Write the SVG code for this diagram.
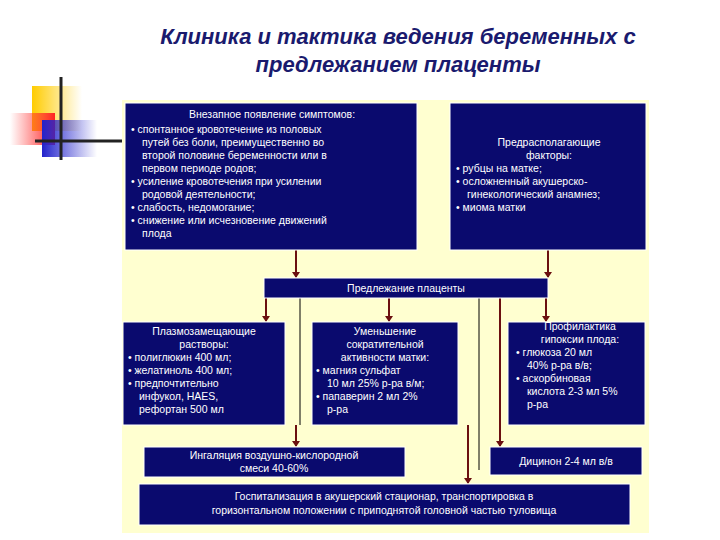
<svg xmlns="http://www.w3.org/2000/svg" width="720" height="540" viewBox="0 0 720 540">
<defs>
<style>
.box{fill:#0a0a6e;stroke:#ffffff;stroke-width:1}
.t{font-family:"Liberation Sans",Arial,sans-serif;font-size:10.5px;fill:#ffffff}
.c{text-anchor:middle}
.ar{stroke:#6b1010;stroke-width:2;fill:none;marker-end:url(#ah)}
.ln{stroke:#000000;stroke-width:1}
</style>
<marker id="ah" markerWidth="6" markerHeight="8" refX="5" refY="4" orient="auto" markerUnits="userSpaceOnUse"><path d="M0,0 L6,4 L0,8 z" fill="#6b1010"/></marker>
<linearGradient id="gy" x1="0" x2="1"><stop offset="0" stop-color="#ffcc00"/><stop offset="1" stop-color="#ffcc00" stop-opacity="0"/></linearGradient>
<linearGradient id="gr" x1="0" x2="1"><stop offset="0" stop-color="#ff3333" stop-opacity="0"/><stop offset="1" stop-color="#ff2222"/></linearGradient>
<linearGradient id="gb" x1="0" x2="1"><stop offset="0" stop-color="#2222cc"/><stop offset="1" stop-color="#2222cc" stop-opacity="0"/></linearGradient>
</defs>
<rect width="720" height="540" fill="#ffffff"/>
<g id="logo">
<rect x="32" y="86" width="50" height="45" fill="url(#gy)"/>
<rect x="10" y="113" width="45" height="32" fill="url(#gr)"/>
<rect x="42" y="120" width="55" height="37" fill="url(#gb)"/>
<line x1="61" y1="77" x2="61" y2="160" stroke="#222" stroke-width="3"/>
<line x1="35" y1="141" x2="122" y2="141" stroke="#222" stroke-width="3"/>
</g>
<g id="title" font-family="Liberation Sans,Arial,sans-serif" font-size="22" font-style="italic" font-weight="bold" fill="#1a1a6e" text-anchor="middle">
<text x="398" y="44">Клиника и тактика ведения беременных с</text>
<text x="398" y="72">предлежанием плаценты</text>
</g>
<rect x="122" y="100" width="527" height="433" fill="#ffffd0"/>
<g id="connectors">
<line class="ar" x1="296" y1="250" x2="296" y2="277"/>
<line class="ar" x1="548" y1="250" x2="548" y2="277"/>
<line class="ar" x1="266" y1="298" x2="266" y2="321"/>
<line class="ar" x1="389" y1="298" x2="389" y2="321"/>
<line class="ar" x1="546" y1="298" x2="546" y2="321"/>
<line class="ln" x1="300" y1="298" x2="300" y2="425"/>
<line class="ar" x1="296" y1="425" x2="296" y2="446"/>
<line class="ar" x1="500" y1="298" x2="500" y2="446"/>
<line class="ln" x1="479" y1="298" x2="479" y2="470"/>
<line class="ar" x1="468" y1="425" x2="468" y2="483"/>
</g>
<g id="symptoms">
<rect class="box" x="125" y="103" width="292" height="147"/>
<text class="t c" x="272" y="118">Внезапное появление симптомов:</text>
<text class="t" x="131" y="133">• спонтанное кровотечение из половых</text>
<text class="t" x="142" y="146">путей без боли, преимущественно во</text>
<text class="t" x="142" y="159">второй половине беременности или в</text>
<text class="t" x="142" y="172">первом периоде родов;</text>
<text class="t" x="131" y="185">• усиление кровотечения при усилении</text>
<text class="t" x="142" y="198">родовой деятельности;</text>
<text class="t" x="131" y="211">• слабость, недомогание;</text>
<text class="t" x="131" y="224">• снижение или исчезновение движений</text>
<text class="t" x="142" y="237">плода</text>
</g>
<g id="factors">
<rect class="box" x="450" y="103" width="196" height="147"/>
<text class="t c" x="549" y="146">Предрасполагающие</text>
<text class="t c" x="549" y="159">факторы:</text>
<text class="t" x="456" y="172">• рубцы на матке;</text>
<text class="t" x="456" y="185">• осложненный акушерско-</text>
<text class="t" x="467" y="198">гинекологический анамнез;</text>
<text class="t" x="456" y="211">• миома матки</text>
</g>
<g id="placenta">
<rect class="box" x="264" y="278" width="284" height="20"/>
<text class="t c" x="406" y="292">Предлежание плаценты</text>
</g>
<g id="plasma">
<rect class="box" x="123" y="322" width="162" height="103"/>
<text class="t c" x="204" y="335">Плазмозамещающие</text>
<text class="t c" x="204" y="348">растворы:</text>
<text class="t" x="128" y="361">• полиглюкин 400 мл;</text>
<text class="t" x="128" y="374">• желатиноль 400 мл;</text>
<text class="t" x="128" y="387">• предпочтительно</text>
<text class="t" x="139" y="400">инфукол, HAES,</text>
<text class="t" x="139" y="413">рефортан 500 мл</text>
</g>
<g id="contract">
<rect class="box" x="312" y="322" width="146" height="103"/>
<text class="t c" x="385" y="335">Уменьшение</text>
<text class="t c" x="385" y="348">сократительной</text>
<text class="t c" x="385" y="361">активности матки:</text>
<text class="t" x="316" y="374">• магния сульфат</text>
<text class="t" x="327" y="387">10 мл 25% р-ра в/м;</text>
<text class="t" x="316" y="400">• папаверин 2 мл 2%</text>
<text class="t" x="327" y="413">р-ра</text>
</g>
<g id="hypoxia">
<rect class="box" x="508" y="322" width="137" height="103"/>
<text class="t c" x="580" y="330">Профилактика</text>
<text class="t c" x="580" y="343">гипоксии плода:</text>
<text class="t" x="516" y="356">• глюкоза 20 мл</text>
<text class="t" x="527" y="369">40% р-ра в/в;</text>
<text class="t" x="516" y="382">• аскорбиновая</text>
<text class="t" x="527" y="395">кислота 2-3 мл 5%</text>
<text class="t" x="527" y="408">р-ра</text>
</g>
<g id="inhal">
<rect class="box" x="144" y="447" width="261" height="30"/>
<text class="t c" x="274" y="459">Ингаляция воздушно-кислородной</text>
<text class="t c" x="274" y="472">смеси 40-60%</text>
</g>
<g id="dicynon">
<rect class="box" x="490" y="447" width="152" height="28"/>
<text class="t c" x="566" y="465">Дицинон 2-4 мл в/в</text>
</g>
<g id="hosp">
<rect class="box" x="139" y="484" width="491" height="41"/>
<text class="t c" x="384" y="500">Госпитализация в акушерский стационар, транспортировка в</text>
<text class="t c" x="384" y="514">горизонтальном положении с приподнятой головной частью туловища</text>
</g>
</svg>
